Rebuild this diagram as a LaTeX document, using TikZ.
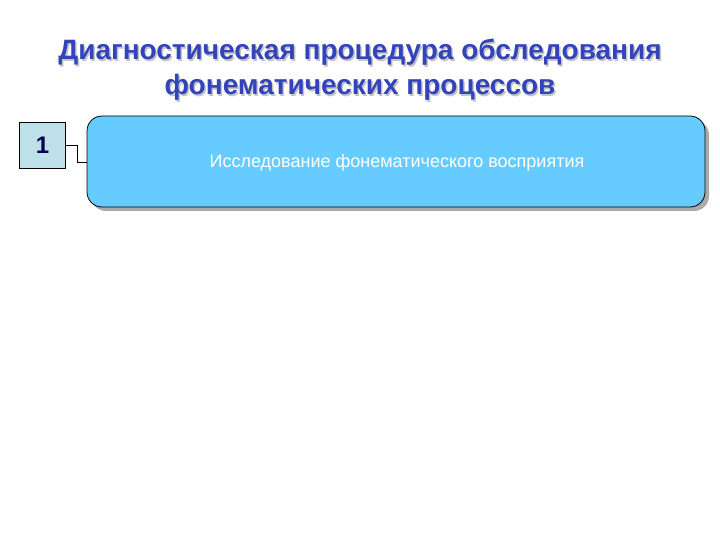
\documentclass[tikz,border=0pt]{standalone}
\usepackage{fontspec}
\setmainfont{Liberation Sans}
\definecolor{titleblue}{RGB}{51,68,187}
\definecolor{boxblue}{RGB}{102,204,255}
\definecolor{numfill}{RGB}{190,224,232}
\definecolor{numtext}{RGB}{0,0,80}
\definecolor{shadowgray}{RGB}{170,170,170}
\tikzset{
  titletext/.style={font=\bfseries\fontsize{28}{32}\selectfont, text=titleblue, anchor=base, inner sep=0pt},
  titleshadow/.style={font=\bfseries\fontsize{28}{32}\selectfont, text=shadowgray!70, anchor=base, inner sep=0pt},
  numbox/.style={draw=black, line width=0.8pt, fill=numfill, minimum width=46pt, minimum height=46pt, inner sep=0pt, font=\bfseries\fontsize{24}{28}\selectfont, text=numtext},
  mainbox/.style={draw=black, line width=0.8pt, fill=boxblue, rounded corners=15pt, minimum width=618pt, minimum height=91pt, inner sep=0pt},
  shadowbox/.style={fill=shadowgray, rounded corners=15pt, minimum width=618pt, minimum height=91pt, inner sep=0pt},
  boxtext/.style={text=white, font=\fontsize{18}{21}\selectfont, anchor=base, inner sep=0pt},
  link/.style={draw=black, line width=0.6pt}
}
\begin{document}
\begin{tikzpicture}[x=1pt,y=1pt]
\useasboundingbox (0,0) rectangle (720,-540);
\fill[white] (0,0) rectangle (720,-540);
% title
\node[titleshadow] (t1s) at (361.5,-61.5) {Диагностическая процедура обследования};
\node[titletext] (t1) at (360,-60) {Диагностическая процедура обследования};
\node[titleshadow] (t2s) at (361.5,-96.5) {фонематических процессов};
\node[titletext] (t2) at (360,-95) {фонематических процессов};
% main box with shadow
\node[shadowbox] (shadow) at (400,-165.5) {};
\node[mainbox] (main) at (396,-161.5) {};
\node[boxtext] (label) at (397,-168) {Исследование фонематического восприятия};
% number box
\node[numbox] (num) at (42.5,-145) {1};
\coordinate (bend1) at (77,-145);
\coordinate (bend2) at (77,-162);
\draw[link] (num.east) -- (bend1) -- (bend2) -- (main.west |- bend2);
\end{tikzpicture}
\end{document}
